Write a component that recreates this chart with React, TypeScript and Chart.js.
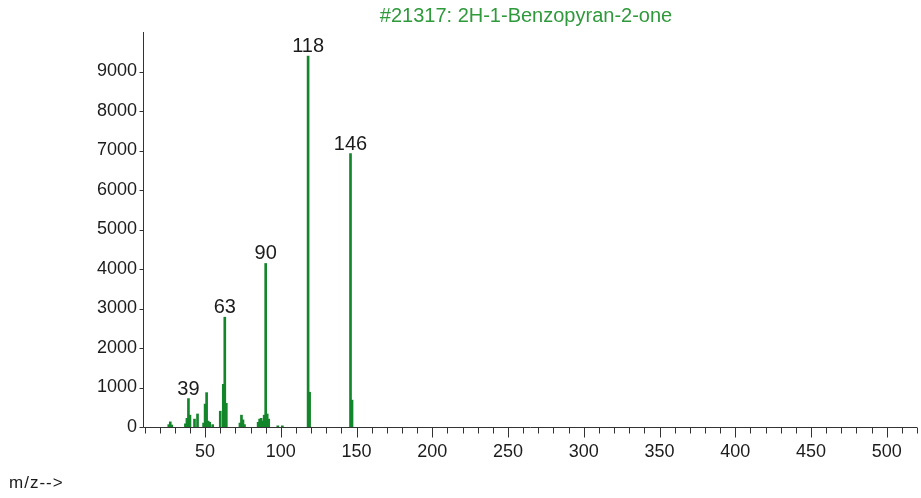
import React, { useEffect, useRef } from "react";
import { Chart, registerables } from "chart.js";

Chart.register(...registerables);

// ---- data ----
const mzValues = [26, 27, 28, 37, 38, 39, 40, 43, 45, 49, 50, 51, 52, 53, 55, 60, 62, 63, 64, 73, 74, 75, 76, 85, 86, 87, 88, 89, 90, 91, 92, 98, 101, 118, 119, 146, 147];
const intensities = [60, 130, 50, 80, 220, 720, 300, 200, 330, 100, 580, 870, 150, 120, 60, 400, 1080, 2780, 600, 100, 300, 180, 60, 120, 200, 220, 150, 300, 4140, 330, 200, 30, 30, 9390, 880, 6920, 680];
const labeledPeaks = [39, 63, 90, 118, 146];
const yTickValues = [0, 1000, 2000, 3000, 4000, 5000, 6000, 7000, 8000, 9000];
const xMajorTicks = [50, 100, 150, 200, 250, 300, 350, 400, 450, 500];
const xMinorTicks = [10, 20, 30, 40, 50, 60, 70, 80, 90, 100, 110, 120, 130, 140, 150, 160, 170, 180, 190, 200, 210, 220, 230, 240, 250, 260, 270, 280, 290, 300, 310, 320, 330, 340, 350, 360, 370, 380, 390, 400, 410, 420, 430, 440, 450, 460, 470, 480, 490, 500, 510, 520];
const titleText = "#21317: 2H-1-Benzopyran-2-one";
const xAxisText = "m/z-->";

const GREEN = "#13852a";
const TITLE_GREEN = "#2f9a3c";
const TEXT = "#1c1c1c";
const AXIS = "#333333";
const FONT = "'Liberation Sans', Arial, sans-serif";

export default function App() {
  const ref = useRef<HTMLCanvasElement | null>(null);

  useEffect(() => {
    const canvas = ref.current;
    if (!canvas) return;

    const overlay = {
      id: "overlay",
      afterDraw(chart: any) {
        const ctx = chart.ctx as CanvasRenderingContext2D;
        const xs = chart.scales.x;
        const ys = chart.scales.y;
        const area = chart.chartArea;
        ctx.save();
        // axes
        ctx.strokeStyle = AXIS;
        ctx.lineWidth = 1;
        ctx.beginPath();
        const ax = Math.round(area.left) + 0.5;
        const ay = Math.round(area.bottom) + 0.5;
        ctx.moveTo(ax, area.top);
        ctx.lineTo(ax, ay);
        ctx.lineTo(area.right, ay);
        ctx.stroke();
        // x ticks
        ctx.beginPath();
        xMinorTicks.forEach((v) => {
          const px = Math.round(xs.getPixelForValue(v)) + 0.5;
          const len = v % 50 === 0 ? 10 : 6;
          ctx.moveTo(px, ay);
          ctx.lineTo(px, ay + len);
        });
        // y ticks
        yTickValues.forEach((v) => {
          const py = Math.round(ys.getPixelForValue(v)) + 0.5;
          ctx.moveTo(ax - 4, py);
          ctx.lineTo(ax, py);
        });
        ctx.stroke();

        // peak labels
        ctx.fillStyle = TEXT;
        ctx.font = `20px ${FONT}`;
        ctx.textAlign = "center";
        ctx.textBaseline = "alphabetic";
        labeledPeaks.forEach((mz) => {
          const i = mzValues.indexOf(mz);
          const px = xs.getPixelForValue(mz);
          const py = ys.getPixelForValue(intensities[i]);
          ctx.fillText(String(mz), px, py - 4);
        });

        // title
        ctx.fillStyle = TITLE_GREEN;
        ctx.font = `20px ${FONT}`;
        ctx.textAlign = "center";
        ctx.fillText(titleText, 526, 22);

        // x axis caption
        ctx.fillStyle = TEXT;
        ctx.font = `17px ${FONT}`;
        ctx.textAlign = "left";
        (ctx as any).letterSpacing = "1px";
        ctx.fillText(xAxisText, 9, 488);
        ctx.restore();
      },
    };

    const chart = new Chart(canvas, {
      type: "bar",
      data: {
        datasets: [
          {
            data: mzValues.map((x, i) => ({ x, y: intensities[i] })),
            backgroundColor: GREEN,
            borderWidth: 0,
            barThickness: 2,
            grouped: false,
          } as any,
        ],
      },
      options: {
        animation: false,
        responsive: false,
        devicePixelRatio: 1,
        layout: { padding: { top: 32, right: 4, left: 0, bottom: 0 } },
        plugins: {
          legend: { display: false },
          tooltip: { enabled: false },
          title: { display: false },
        },
        scales: {
          x: {
            type: "linear",
            offset: false,
            min: 9,
            max: 520,
            grid: { display: false, offset: false },
            border: { display: false },
            afterBuildTicks: (s: any) => {
              s.ticks = xMajorTicks.map((v) => ({ value: v }));
            },
            afterFit: (s: any) => {
              s.height = 71;
            },
            ticks: {
              autoSkip: false,
              maxRotation: 0,
              padding: 6,
              color: TEXT,
              font: { family: FONT, size: 18 },
              callback: (v: any) => String(v),
            },
          },
          y: {
            type: "linear",
            min: 0,
            max: 10000,
            grid: { display: false },
            border: { display: false },
            afterBuildTicks: (s: any) => {
              s.ticks = yTickValues.map((v) => ({ value: v }));
            },
            afterFit: (s: any) => {
              s.width = 143;
            },
            ticks: {
              padding: -2,
              color: TEXT,
              font: { family: FONT, size: 18 },
              callback: (v: any) => String(v),
            },
          },
        },
      } as any,
      plugins: [overlay],
    });

    return () => chart.destroy();
  }, []);

  return (
    <div style={{ position: "fixed", left: 0, top: 0, width: 921, height: 498, background: "#fff" }}>
      <canvas ref={ref} width={921} height={498} style={{ display: "block" }} />
    </div>
  );
}
